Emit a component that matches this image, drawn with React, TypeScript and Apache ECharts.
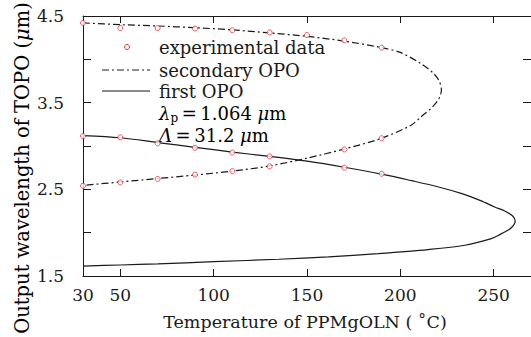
import React, { useEffect, useRef } from "react";
import * as echarts from "echarts";

// X tick values/labels and Y tick labels
const xTickLabels = [30, 50, 100, 150, 200, 250];
const xTickMarks = [50, 100, 150, 200, 250];
const yTickLabels = [1.5, 2.5, 3.5, 4.5];
const yTickMarks = [2, 2.5, 3, 3.5, 4];

// secondary OPO theoretical curve (temperature, wavelength)
const secondaryT = [30, 50, 70, 90, 110, 130, 150, 170, 190, 200, 211, 217.7, 220.8, 222, 220.8, 217.2, 211, 205.8, 190, 170, 150, 130, 110, 90, 70, 50, 30];
const secondaryW = [4.42, 4.4, 4.385, 4.365, 4.34, 4.305, 4.265, 4.21, 4.135, 4.08, 3.95, 3.84, 3.75, 3.65, 3.55, 3.45, 3.335, 3.24, 3.09, 2.965, 2.86, 2.77, 2.71, 2.665, 2.625, 2.585, 2.545];

// first OPO theoretical curve
const firstT = [30, 50, 70, 90, 110, 130, 150, 170, 190, 206, 220, 233, 243, 250.5, 255.9, 259.7, 261, 261.5, 261.1, 259.6, 257.6, 253.5, 248.7, 234.5, 215, 188, 161.5, 135, 100, 70, 50, 30];
const firstW = [3.12, 3.095, 3.04, 2.985, 2.93, 2.88, 2.825, 2.755, 2.675, 2.6, 2.53, 2.45, 2.37, 2.296, 2.25, 2.2, 2.17, 2.135, 2.1, 2.06, 2.027, 1.98, 1.932, 1.855, 1.805, 1.758, 1.72, 1.693, 1.665, 1.64, 1.627, 1.615];

// experimental data
const expUpperT = [30, 50, 70, 90, 110, 130, 150, 170, 190];
const expUpperW = [4.42, 4.36, 4.36, 4.355, 4.335, 4.31, 4.28, 4.22, 4.135];
const expLowerT = [30, 50, 70, 90, 110, 130, 170, 190];
const expLowerW = [2.54, 2.58, 2.62, 2.67, 2.71, 2.765, 2.96, 3.09];
const expFirstT = [30, 50, 70, 90, 110, 130, 170, 190];
const expFirstW = [3.115, 3.1, 3.03, 2.98, 2.925, 2.88, 2.75, 2.68];

const FONT = "'DejaVu Serif', 'Liberation Serif', serif";
const TXT = "#1a1a1a";
const LINE = "#1a1a1a";
const RED = "#e8303a";
const DASHDOT = [7, 3, 2, 3];

const zip = (a: number[], b: number[]) => a.map((v, i) => [v, b[i]]);

export default function App() {
  const ref = useRef<HTMLDivElement>(null);
  useEffect(() => {
    if (!ref.current) return;
    const chart = echarts.init(ref.current, null, { renderer: "svg" });
    const expData = [
      ...zip(expUpperT, expUpperW),
      ...zip(expLowerT, expLowerW),
      ...zip(expFirstT, expFirstW),
    ];
    const axisCommon = {
      type: "value" as const,
      axisLine: { show: true, lineStyle: { color: LINE, width: 1 } },
      splitLine: { show: false },
    };
    const LG = 18;
    const plain = { fontFamily: FONT, fontSize: LG, color: TXT };
    const ital = { fontFamily: FONT, fontStyle: "italic", fontSize: LG, color: TXT };
    chart.setOption({
      animation: false,
      grid: { left: 83, top: 16, width: 450, height: 260, containLabel: false },
      xAxis: [
        {
          ...axisCommon,
          position: "bottom",
          min: 30,
          max: 270,
          axisTick: { inside: true, length: 7, customValues: xTickMarks, lineStyle: { color: LINE } },
          axisLabel: { customValues: xTickLabels, color: TXT, fontFamily: FONT, fontSize: 17, margin: 10 },
        },
        {
          ...axisCommon,
          position: "top",
          min: 30,
          max: 270,
          axisTick: { inside: true, length: 7, customValues: xTickMarks, lineStyle: { color: LINE } },
          axisLabel: { show: false },
        },
      ],
      yAxis: [
        {
          ...axisCommon,
          position: "left",
          min: 1.5,
          max: 4.5,
          interval: 0.5,
          axisTick: { inside: true, length: 8, customValues: yTickMarks, lineStyle: { color: LINE } },
          axisLabel: { customValues: yTickLabels, color: TXT, fontFamily: FONT, fontSize: 17, margin: 19, formatter: (v: number) => v.toFixed(1) },
        },
        {
          ...axisCommon,
          position: "right",
          min: 1.5,
          max: 4.5,
          interval: 0.5,
          axisTick: { inside: true, length: 8, customValues: yTickMarks, lineStyle: { color: LINE } },
          axisLabel: { show: false },
        },
      ],
      series: [
        {
          type: "line",
          data: zip(secondaryT, secondaryW),
          showSymbol: false,
          smooth: 0.3,
          lineStyle: { color: LINE, width: 1.2, type: DASHDOT },
          z: 2,
        },
        {
          type: "line",
          data: zip(firstT, firstW),
          showSymbol: false,
          smooth: 0.3,
          lineStyle: { color: LINE, width: 1.2 },
          z: 2,
        },
        {
          type: "scatter",
          data: expData,
          symbol: "circle",
          symbolSize: 5,
          itemStyle: { color: "#fff", borderColor: RED, borderWidth: 1 },
          z: 5,
        },
      ],
      graphic: [
        { type: "circle", shape: { cx: 127, cy: 47, r: 2.5 }, style: { fill: "#fff", stroke: RED, lineWidth: 1 } },
        { type: "line", shape: { x1: 102, y1: 70, x2: 150, y2: 70 }, style: { stroke: LINE, lineWidth: 1.2, lineDash: DASHDOT } },
        { type: "line", shape: { x1: 102, y1: 91, x2: 150, y2: 91 }, style: { stroke: LINE, lineWidth: 1.2 } },
        { type: "text", x: 159, y: 47, style: { text: "experimental data", fill: TXT, fontFamily: FONT, fontSize: LG, verticalAlign: "middle" } },
        { type: "text", x: 159, y: 70, style: { text: "secondary OPO", fill: TXT, fontFamily: FONT, fontSize: LG, verticalAlign: "middle" } },
        { type: "text", x: 159, y: 91, style: { text: "first OPO", fill: TXT, fontFamily: FONT, fontSize: LG, verticalAlign: "middle" } },
        {
          type: "text", x: 159, y: 113,
          style: {
            text: "{it|λ}{sub|p}{n|\u2009=\u20091.064 }{it|μ}{n|m}",
            verticalAlign: "middle",
            rich: {
              it: ital,
              n: plain,
              sub: { fontFamily: FONT, fontSize: 12, color: TXT, padding: [9, 0, 0, 0] },
            },
          },
        },
        {
          type: "text", x: 159, y: 135,
          style: {
            text: "{it|Λ}{n|\u2009=\u200931.2 }{it|μ}{n|m}",
            verticalAlign: "middle",
            rich: { it: ital, n: plain },
          },
        },
        { type: "text", x: 305, y: 322, style: { text: "Temperature of PPMgOLN ( ˚C)", fill: TXT, fontFamily: FONT, fontSize: 17.5, align: "center", verticalAlign: "middle" } },
        { type: "text", x: 22, y: 168, rotation: Math.PI / 2, style: { text: "{n|Output wavelength of TOPO (}{it|μ}{n|m)}", align: "center", verticalAlign: "middle", rich: { it: { ...ital, fontSize: 19.5 }, n: { ...plain, fontSize: 19.5 } } } },
      ],
    });
    return () => chart.dispose();
  }, []);
  return <div ref={ref} style={{ position: "absolute", left: 0, top: 0, width: 531, height: 337 }} />;
}
